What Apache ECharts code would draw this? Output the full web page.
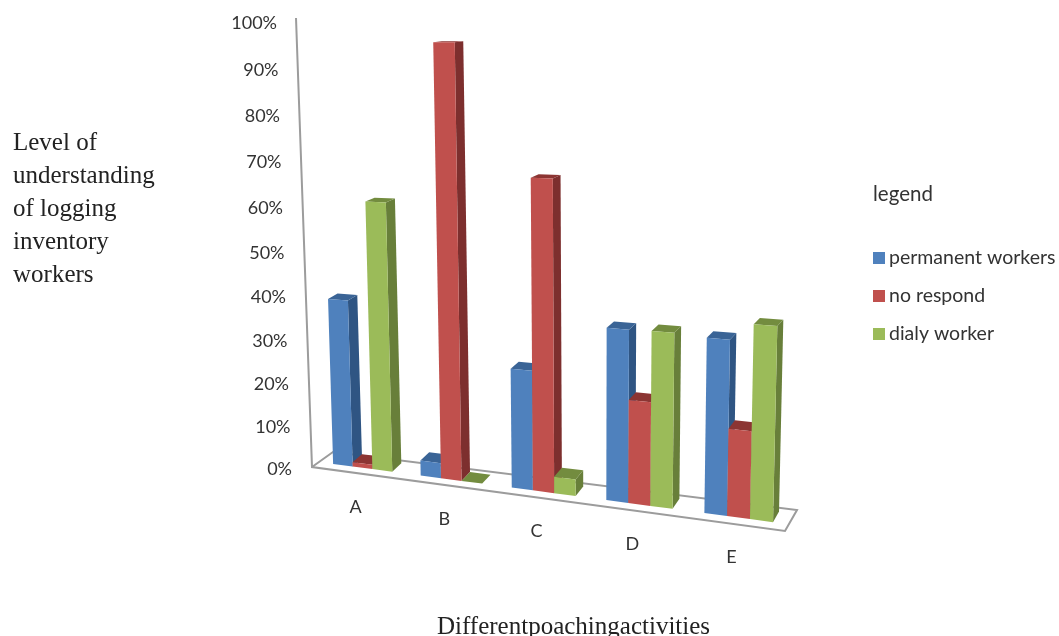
<!DOCTYPE html>
<html>

<head>
    <meta charset="utf-8">
    <script type="text/javascript" src="https://cdn.jsdelivr.net/npm/echarts@6/dist/echarts.min.js"></script>
    <title>Level of understanding</title>
    <style>
        html, body { margin: 0; padding: 0; background: #fff; }
    </style>
</head>

<body>
    <div id="container" style="width:1059px;height:636px;"></div>
    <script type="text/javascript">
    // data
    var categories = ['A', 'B', 'C', 'D', 'E'];
    var permanentWorkers = [38.7, 3.4, 26.4, 37.2, 36.8];
    var noRespond = [1, 98.9, 69, 22.1, 18.2];
    var dailyWorker = [62, 0, 3.6, 37.3, 40.4];
    var yTicks = [0, 10, 20, 30, 40, 50, 60, 70, 80, 90, 100];

    var seriesNames = ['permanent workers', 'no respond', 'dialy worker'];
    var frontColors = ['#4f81bd', '#c0504d', '#9bbb59'];
    var sideColors = ['#2f5583', '#7d2f2e', '#687f3a'];
    var topColors = ['#3a6496', '#8c3533', '#738c3f'];

    var labelFont = '18px Lato';
    var labelColor = '#333';
    var barPx = 21.3;

    // the chart is a tilted 3D one: plain axis pixels -> tilted floor / perspective
    function floorY(x) {
        return 464 + (x - 334) * 0.1324;
    }
    function spreadX(px, api) {
        var first = api.coord([0, 0])[0];
        var last = api.coord([categories.length - 1, 0])[0];
        return px + 0.000198 * (px - first) * (px - last);
    }
    function point(x, h, depth) {
        var hh = h * (1 + (x - 480) * 0.0003);
        var leanX = (x - 590) * 0.00012 * hh;
        var dx = (9.5 - (x - 334) * 0.008) * depth;
        var dy = (8 + (x - 334) * 0.006) * (1 - hh * 0.002) * depth;
        return [x + leanX + dx, floorY(x) - hh - dy];
    }

    function barRenderer(idx) {
        return function (params, api) {
            var cat = api.value(0);
            var base = api.coord([cat, 0]);
            var tip = api.coord([cat, api.value(1)]);
            var h = base[1] - tip[1];
            var left = spreadX(base[0] + (idx - 1.5) * barPx, api);
            var right = spreadX(base[0] + (idx - 0.5) * barPx, api);
            var poly = function (pts, color) {
                return { type: 'polygon', shape: { points: pts }, style: { fill: color } };
            };
            return {
                type: 'group',
                children: [
                    poly([point(right, h, 0), point(right, 0, 0), point(right, 0, 1), point(right, h, 1)], sideColors[idx]),
                    poly([point(left, h, 0), point(right, h, 0), point(right, h, 1), point(left, h, 1)], topColors[idx]),
                    poly([point(left, h, 0), point(right, h, 0), point(right, 0, 0), point(left, 0, 0)], frontColors[idx])
                ]
            };
        };
    }

    function barData(values) {
        return values.map(function (v, i) { return [i, v]; });
    }

    var myChart = echarts.init(document.getElementById('container'));

    var series = [];
    [permanentWorkers, noRespond, dailyWorker].forEach(function (values, idx) {
        series.push({
            type: 'custom',
            name: seriesNames[idx],
            data: barData(values),
            encode: { x: 0, y: 1 },
            itemStyle: { color: frontColors[idx] },
            renderItem: barRenderer(idx),
            silent: true,
            z: 3
        });
    });

    // y tick labels follow the leaning wall
    series.push({
        type: 'custom',
        data: yTicks.map(function (v) { return [0, v]; }),
        encode: { x: 0, y: 1 },
        silent: true,
        renderItem: function (params, api) {
            var v = api.value(1);
            var base = api.coord([0, 0]);
            var h = base[1] - api.coord([0, v])[1];
            var t = h / 446;
            return {
                type: 'text',
                style: {
                    text: v + '%',
                    x: 292 - 15 * t,
                    y: base[1] + 1 - (h - 28 * t * (1 - t)),
                    textAlign: 'right',
                    textVerticalAlign: 'middle',
                    font: labelFont,
                    fill: labelColor
                }
            };
        }
    });

    // category labels sit under the tilted floor
    series.push({
        type: 'custom',
        data: categories.map(function (c, i) { return [i, 0]; }),
        encode: { x: 0, y: 1 },
        silent: true,
        renderItem: function (params, api) {
            var i = api.value(0);
            var x = spreadX(api.coord([i, 0])[0], api);
            return {
                type: 'text',
                style: {
                    text: categories[i],
                    x: x - 7,
                    y: floorY(x) + 39.5,
                    textAlign: 'center',
                    textVerticalAlign: 'middle',
                    font: '18px Lato',
                    fill: labelColor
                }
            };
        }
    });

    var option = {
        animation: false,
        backgroundColor: '#fff',
        title: [{
            text: 'Level of\nunderstanding\nof logging\ninventory\nworkers',
            left: 13,
            top: 127,
            padding: 0,
            textStyle: { fontFamily: 'Liberation Serif', fontSize: 25, fontWeight: 'normal', color: '#222', lineHeight: 33 }
        }, {
            text: 'Differentpoachingactivities',
            left: 437,
            top: 615,
            padding: 0,
            textStyle: { fontFamily: 'Liberation Serif', fontSize: 25, fontWeight: 'normal', color: '#222' }
        }, {
            text: 'legend',
            left: 873,
            top: 184,
            padding: 0,
            textStyle: { fontFamily: 'Lato', fontSize: 20.5, fontWeight: 'normal', color: labelColor }
        }],
        legend: {
            orient: 'vertical',
            left: 873,
            top: 248,
            padding: 0,
            icon: 'rect',
            itemWidth: 12,
            itemHeight: 12,
            itemGap: 18,
            selectedMode: false,
            data: seriesNames,
            textStyle: { fontFamily: 'Lato', fontSize: 19.5, color: labelColor, padding: [0, 0, 0, -1] }
        },
        grid: { left: 315.5, width: 470, top: 22, height: 446 },
        xAxis: { type: 'category', data: categories, show: false },
        yAxis: { type: 'value', min: 0, max: 100, interval: 10, show: false },
        // the wall edge and floor outline
        graphic: [{
            type: 'polyline',
            z: 0,
            shape: { points: [[296, 18], [312, 467], [785, 531], [797, 510], [333, 452], [312, 467]] },
            style: { fill: null, stroke: '#9c9c9c', lineWidth: 2 }
        }],
        series: series
    };

    myChart.setOption(option);
    </script>
</body>

</html>
